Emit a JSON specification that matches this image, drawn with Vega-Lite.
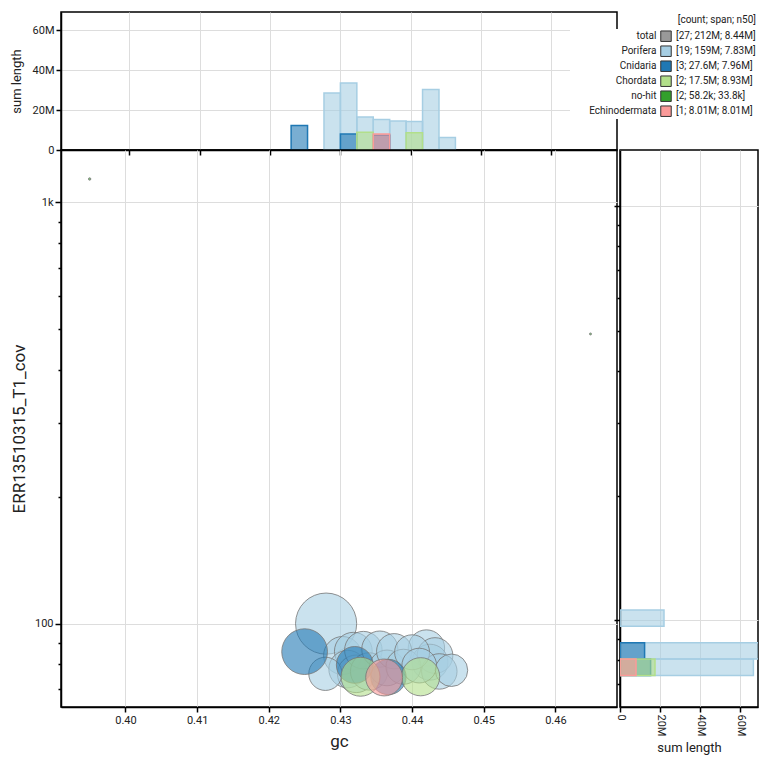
{
  "$schema": "https://vega.github.io/schema/vega-lite/v6.json",
  "padding": {"left": 9, "top": 11, "right": 5, "bottom": 5},
  "config": {
    "font": "Roboto",
    "view": {"stroke": "#000", "strokeWidth": 1.5},
    "axis": {
      "domainColor": "#000", "domainWidth": 1.5, "tickColor": "#000", "tickWidth": 1.5, "tickSize": 5,
      "labelFontSize": 11, "labelColor": "#222", "labelFont": "Roboto",
      "titleFont": "Roboto", "titleFontWeight": "normal", "titleColor": "#222",
      "gridColor": "#dddddd", "gridWidth": 1
    },
    "legend": {"labelFont": "Roboto", "titleFont": "Roboto"}
  },
  "datasets": {
    "scaffolds": [
      {"taxon": "Porifera", "gc": 0.4280, "cov": 100, "length": 22000000},
      {"taxon": "Porifera", "gc": 0.4303, "cov": 84, "length": 8500000},
      {"taxon": "Porifera", "gc": 0.4318, "cov": 86, "length": 8400000},
      {"taxon": "Porifera", "gc": 0.4310, "cov": 78, "length": 8300000},
      {"taxon": "Porifera", "gc": 0.4322, "cov": 76, "length": 8300000},
      {"taxon": "Porifera", "gc": 0.4332, "cov": 86.5, "length": 8300000},
      {"taxon": "Porifera", "gc": 0.4340, "cov": 77, "length": 8200000},
      {"taxon": "Porifera", "gc": 0.4420, "cov": 87.5, "length": 7800000},
      {"taxon": "Porifera", "gc": 0.4355, "cov": 87, "length": 7700000},
      {"taxon": "Porifera", "gc": 0.4425, "cov": 81, "length": 7600000},
      {"taxon": "Porifera", "gc": 0.4365, "cov": 78.5, "length": 7500000},
      {"taxon": "Porifera", "gc": 0.4432, "cov": 84, "length": 7500000},
      {"taxon": "Porifera", "gc": 0.4438, "cov": 77, "length": 7400000},
      {"taxon": "Porifera", "gc": 0.4375, "cov": 86, "length": 7300000},
      {"taxon": "Porifera", "gc": 0.4388, "cov": 79, "length": 7200000},
      {"taxon": "Porifera", "gc": 0.4400, "cov": 85.5, "length": 7200000},
      {"taxon": "Porifera", "gc": 0.4410, "cov": 79.5, "length": 7100000},
      {"taxon": "Porifera", "gc": 0.4279, "cov": 76, "length": 6500000},
      {"taxon": "Porifera", "gc": 0.4455, "cov": 77.5, "length": 6200000},
      {"taxon": "Cnidaria", "gc": 0.4250, "cov": 85.8, "length": 12300000},
      {"taxon": "Cnidaria", "gc": 0.4320, "cov": 79.8, "length": 7960000},
      {"taxon": "Cnidaria", "gc": 0.4367, "cov": 74.7, "length": 7340000},
      {"taxon": "Chordata", "gc": 0.4328, "cov": 74.8, "length": 8930000},
      {"taxon": "Chordata", "gc": 0.4412, "cov": 74.8, "length": 8570000},
      {"taxon": "no-hit", "gc": 0.3950, "cov": 1136, "length": 33800},
      {"taxon": "no-hit", "gc": 0.4649, "cov": 487, "length": 24400},
      {"taxon": "Echinodermata", "gc": 0.4361, "cov": 74.5, "length": 8010000}
    ],
    "tophist": [
      {"taxon": "Porifera", "gc_start": 0.427665, "gc_end": 0.43, "length": 28500000},
      {"taxon": "Porifera", "gc_start": 0.43, "gc_end": 0.432335, "length": 33500000},
      {"taxon": "Porifera", "gc_start": 0.432335, "gc_end": 0.43467, "length": 16500000},
      {"taxon": "Porifera", "gc_start": 0.43467, "gc_end": 0.437005, "length": 15200000},
      {"taxon": "Porifera", "gc_start": 0.437005, "gc_end": 0.43934, "length": 14500000},
      {"taxon": "Porifera", "gc_start": 0.43934, "gc_end": 0.441675, "length": 14300000},
      {"taxon": "Porifera", "gc_start": 0.441675, "gc_end": 0.44401, "length": 30300000},
      {"taxon": "Porifera", "gc_start": 0.44401, "gc_end": 0.446345, "length": 6200000},
      {"taxon": "Cnidaria", "gc_start": 0.422995, "gc_end": 0.42533, "length": 12300000},
      {"taxon": "Cnidaria", "gc_start": 0.43, "gc_end": 0.432335, "length": 7960000},
      {"taxon": "Cnidaria", "gc_start": 0.43467, "gc_end": 0.437005, "length": 7340000},
      {"taxon": "Chordata", "gc_start": 0.432335, "gc_end": 0.43467, "length": 8930000},
      {"taxon": "Chordata", "gc_start": 0.43934, "gc_end": 0.441675, "length": 8570000},
      {"taxon": "Echinodermata", "gc_start": 0.43467, "gc_end": 0.437005, "length": 8010000}
    ],
    "righthist": [
      {"taxon": "Porifera", "cov_start": 96.6, "cov_end": 105.85, "length": 22000000},
      {"taxon": "Porifera", "cov_start": 80.54, "cov_end": 88.17, "length": 70300000},
      {"taxon": "Porifera", "cov_start": 73.5, "cov_end": 80.54, "length": 66700000},
      {"taxon": "Cnidaria", "cov_start": 80.54, "cov_end": 88.17, "length": 12300000},
      {"taxon": "Cnidaria", "cov_start": 73.5, "cov_end": 80.54, "length": 15300000},
      {"taxon": "Chordata", "cov_start": 73.5, "cov_end": 80.54, "length": 17500000},
      {"taxon": "Echinodermata", "cov_start": 73.5, "cov_end": 80.54, "length": 8010000}
    ]
  },
  "columns": 2,
  "spacing": {"row": 0, "column": 3},
  "bounds": "flush",
  "resolve": {"scale": {"color": "independent", "fill": "independent", "stroke": "independent", "size": "independent"}},
  "concat": [
    {
      "width": 556, "height": 138,
      "data": {"name": "tophist"},
      "mark": {"type": "bar", "orient": "vertical", "fillOpacity": 0.6, "strokeWidth": 1.5, "clip": true},
      "encoding": {
        "x": {"field": "gc_start", "type": "quantitative",
              "scale": {"domain": [0.3910, 0.4686], "nice": false, "zero": false},
              "axis": {"values": [0.40, 0.41, 0.42, 0.43, 0.44, 0.45, 0.46], "labels": false, "title": null, "grid": true}},
        "x2": {"field": "gc_end"},
        "y": {"field": "length", "type": "quantitative", "stack": null,
              "scale": {"domain": [0, 69000000], "nice": false},
              "axis": {"values": [0, 20000000, 40000000, 60000000], "labelExpr": "datum.value == 0 ? '0' : (datum.value / 1000000) + 'M'", "title": "sum length", "titleFontSize": 13, "titlePadding": 9, "grid": true}},
        "fill": {"field": "taxon", "type": "nominal",
                 "scale": {"domain": ["total", "Porifera", "Cnidaria", "Chordata", "no-hit", "Echinodermata"],
                           "range": ["#999999", "#a6cee3", "#1f78b4", "#b2df8a", "#33a02c", "#fb9a99"]},
                 "legend": {"orient": "none", "legendX": 509, "legendY": 17, "direction": "vertical", "title": null,
                            "labelFontSize": 10, "labelColor": "#222", "labelAlign": "right", "labelOffset": 75.5,
                            "symbolType": "square", "symbolSize": 110, "symbolStrokeWidth": 0, "symbolOpacity": 0,
                            "rowPadding": 0, "clipHeight": 14.4, "padding": 0, "fillColor": "white"}},
        "stroke": {"field": "taxon", "type": "nominal",
                   "scale": {"domain": ["total", "Porifera", "Cnidaria", "Chordata", "no-hit", "Echinodermata"],
                             "range": ["#999999", "#a6cee3", "#1f78b4", "#b2df8a", "#33a02c", "#fb9a99"]},
                   "legend": null}
      }
    },
    {
      "width": 138, "height": 138,
      "view": {"stroke": null},
      "data": {"values": []},
      "mark": "point",
      "encoding": {}
    },
    {
      "width": 556, "height": 557,
      "data": {"name": "scaffolds"},
      "mark": {"type": "circle", "fillOpacity": 0.6, "stroke": "#777777", "strokeOpacity": 0.8, "strokeWidth": 1, "clip": true},
      "encoding": {
        "x": {"field": "gc", "type": "quantitative",
              "scale": {"domain": [0.3910, 0.4686], "nice": false, "zero": false},
              "axis": {"values": [0.40, 0.41, 0.42, 0.43, 0.44, 0.45, 0.46], "format": ".2f", "title": "gc", "titleFontSize": 17, "titlePadding": 8, "grid": true}},
        "y": {"field": "cov", "type": "quantitative",
              "scale": {"type": "log", "domain": [63.4, 1331], "nice": false},
              "axis": {"values": [70, 80, 90, 100, 200, 300, 400, 500, 600, 700, 800, 900, 1000],
                       "labelExpr": "datum.value == 100 ? '100' : datum.value == 1000 ? '1k' : ''",
                       "tickSize": {"condition": {"test": "datum.value == 100 || datum.value == 1000", "value": 6}, "value": 3},
                       "gridOpacity": {"condition": {"test": "datum.value == 100 || datum.value == 1000", "value": 1}, "value": 0},
                       "grid": true, "title": "ERR13510315_T1_cov", "titleFontSize": 17, "titlePadding": 6}},
        "size": {"field": "length", "type": "quantitative",
                 "scale": {"type": "linear", "domain": [0, 22000000], "range": [0, 3739]}, "legend": null},
        "color": {"field": "taxon", "type": "nominal",
                  "scale": {"domain": ["total", "Porifera", "Cnidaria", "Chordata", "no-hit", "Echinodermata"],
                            "range": ["#999999", "#a6cee3", "#1f78b4", "#b2df8a", "#33a02c", "#fb9a99"]},
                  "legend": {"orient": "none", "legendX": 599, "legendY": -135, "direction": "vertical",
                             "title": "[count; span; n50]", "titleFontSize": 10, "titleFontWeight": "normal", "titleColor": "#222", "titleAnchor": "end", "titlePadding": 4,
                             "labelFontSize": 10, "labelColor": "#222",
                             "symbolType": "square", "symbolSize": 110, "symbolOpacity": 1, "symbolStrokeColor": "#333", "symbolStrokeWidth": 1,
                             "rowPadding": 0, "clipHeight": 14.4, "padding": 0,
                             "labelExpr": "datum.label == 'total' ? '[27; 212M; 8.44M]' : datum.label == 'Porifera' ? '[19; 159M; 7.83M]' : datum.label == 'Cnidaria' ? '[3; 27.6M; 7.96M]' : datum.label == 'Chordata' ? '[2; 17.5M; 8.93M]' : datum.label == 'no-hit' ? '[2; 58.2k; 33.8k]' : '[1; 8.01M; 8.01M]'"}}
      }
    },
    {
      "width": 138, "height": 557,
      "data": {"name": "righthist"},
      "mark": {"type": "bar", "orient": "horizontal", "fillOpacity": 0.6, "strokeWidth": 1.5, "clip": true},
      "encoding": {
        "y": {"field": "cov_start", "type": "quantitative",
              "scale": {"type": "log", "domain": [63.4, 1331], "nice": false},
              "axis": {"values": [70, 80, 90, 100, 200, 300, 400, 500, 600, 700, 800, 900, 1000], "labels": false, "title": null,
                       "tickSize": {"condition": {"test": "datum.value == 100 || datum.value == 1000", "value": 6}, "value": 3},
                       "gridOpacity": {"condition": {"test": "datum.value == 100 || datum.value == 1000", "value": 1}, "value": 0},
                       "grid": true}},
        "y2": {"field": "cov_end"},
        "x": {"field": "length", "type": "quantitative", "stack": null,
              "scale": {"domain": [0, 69000000], "nice": false},
              "axis": {"values": [0, 20000000, 40000000, 60000000], "labelExpr": "datum.value == 0 ? '0' : (datum.value / 1000000) + 'M'", "labelAngle": 90, "labelAlign": "left", "labelBaseline": "middle", "title": "sum length", "titleFontSize": 13, "titlePadding": 6, "grid": true}},
        "fill": {"field": "taxon", "type": "nominal",
                 "scale": {"domain": ["total", "Porifera", "Cnidaria", "Chordata", "no-hit", "Echinodermata"],
                           "range": ["#999999", "#a6cee3", "#1f78b4", "#b2df8a", "#33a02c", "#fb9a99"]},
                 "legend": null},
        "stroke": {"field": "taxon", "type": "nominal",
                   "scale": {"domain": ["total", "Porifera", "Cnidaria", "Chordata", "no-hit", "Echinodermata"],
                             "range": ["#999999", "#a6cee3", "#1f78b4", "#b2df8a", "#33a02c", "#fb9a99"]},
                   "legend": null}
      }
    }
  ]
}
